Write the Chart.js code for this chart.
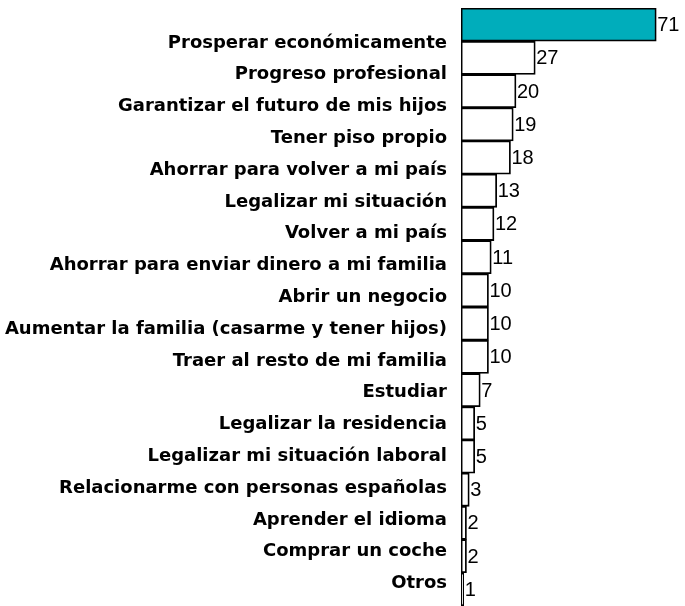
<!DOCTYPE html>
<html>
<head>
<meta charset="utf-8">
<script src="https://cdn.jsdelivr.net/npm/chart.js@4/dist/chart.umd.min.js"></script>
<style>
  html, body { margin: 0; padding: 0; background: #fff; }
  #wrap { width: 685px; height: 606px; position: relative; }
</style>
</head>
<body>
<div id="wrap"><canvas id="chart"></canvas></div>
<script>
// categorías y valores
const categories = [
  "Prosperar económicamente",
  "Progreso profesional",
  "Garantizar el futuro de mis hijos",
  "Tener piso propio",
  "Ahorrar para volver a mi país",
  "Legalizar mi situación",
  "Volver a mi país",
  "Ahorrar para enviar dinero a mi familia",
  "Abrir un negocio",
  "Aumentar la familia (casarme y tener hijos)",
  "Traer al resto de mi familia",
  "Estudiar",
  "Legalizar la residencia",
  "Legalizar mi situación laboral",
  "Relacionarme con personas españolas",
  "Aprender el idioma",
  "Comprar un coche",
  "Otros"
];
const values = [71, 27, 20, 19, 18, 13, 12, 11, 10, 10, 10, 7, 5, 5, 3, 2, 2, 1];
const highlightIndex = [0];

const barColors = values.map((v, i) => highlightIndex.includes(i) ? "#00adbb" : "#ffffff");

// etiquetas de valor a la derecha de cada barra
const valueLabels = {
  id: "valueLabels",
  afterDatasetsDraw(chart) {
    const ctx = chart.ctx;
    const meta = chart.getDatasetMeta(0);
    ctx.save();
    ctx.font = "20px 'Liberation Sans', Arial, sans-serif";
    ctx.fillStyle = "#000";
    ctx.textAlign = "left";
    ctx.textBaseline = "middle";
    meta.data.forEach((bar, i) => {
      ctx.fillText(String(values[i]), bar.x + 1, bar.y + 1);
    });
    ctx.restore();
  }
};

new Chart(document.getElementById("chart"), {
  type: "bar",
  data: {
    labels: categories,
    datasets: [{
      data: values,
      backgroundColor: barColors,
      borderColor: "#000",
      borderWidth: 1.8,
      borderSkipped: false,
      barPercentage: 1,
      categoryPercentage: 1
    }]
  },
  options: {
    indexAxis: "y",
    responsive: true,
    maintainAspectRatio: false,
    animation: false,
    layout: { padding: { top: 8, right: 4, bottom: 0, left: 0 } },
    plugins: {
      legend: { display: false },
      tooltip: { enabled: false }
    },
    scales: {
      x: { display: false, min: 0, max: 80 },
      y: { display: false },
      // eje de rótulos (desplazado respecto a las barras, como en el original)
      yLabels: {
        type: "linear",
        position: "left",
        reverse: true,
        offset: false,
        bounds: "data",
        min: -1.10,
        max: 17.71,
        grid: { display: false, drawTicks: false, offset: false },
        border: { display: false },
        afterBuildTicks(scale) {
          scale.ticks = categories.map((c, i) => ({ value: i }));
        },
        afterFit(scale) {
          scale.width = 461;
          scale.paddingTop = 0;
          scale.paddingBottom = 0;
        },
        ticks: {
          autoSkip: false,
          padding: 14,
          color: "#000",
          font: { family: "'DejaVu Sans', sans-serif", size: 18, weight: "bold" },
          callback: (v) => categories[v]
        }
      }
    }
  },
  plugins: [valueLabels]
});
</script>
</body>
</html>
